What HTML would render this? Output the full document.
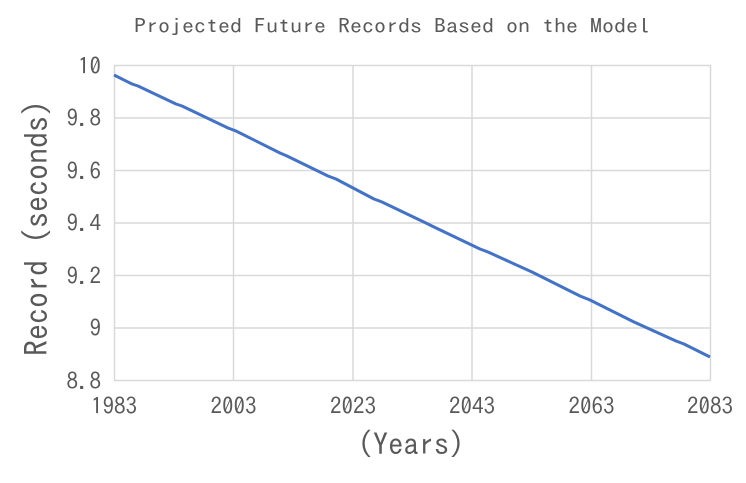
<!DOCTYPE html>
<html><head><meta charset="utf-8"><style>
body{margin:0;background:#fff;width:746px;height:478px;overflow:hidden}
svg text{font-family:"IPAGothic","Noto Sans CJK JP",sans-serif;fill:#595959}
</style></head><body>
<svg width="746" height="478" xmlns="http://www.w3.org/2000/svg">
<rect width="746" height="478" fill="#fff"/>
<text x="392" y="33" font-size="20" text-anchor="middle" textLength="516" lengthAdjust="spacingAndGlyphs">Projected Future Records Based on the Model</text>
<g stroke="#d9d9d9" stroke-width="1.5" fill="none">
<line x1="114" y1="65.5" x2="711" y2="65.5"/>
<line x1="114" y1="118" x2="711" y2="118"/>
<line x1="114" y1="170.5" x2="711" y2="170.5"/>
<line x1="114" y1="223" x2="711" y2="223"/>
<line x1="114" y1="275.5" x2="711" y2="275.5"/>
<line x1="114" y1="328" x2="711" y2="328"/>
<line x1="233.5" y1="65" x2="233.5" y2="380"/>
<line x1="353" y1="65" x2="353" y2="380"/>
<line x1="472" y1="65" x2="472" y2="380"/>
<line x1="591.5" y1="65" x2="591.5" y2="380"/>
<line x1="710.5" y1="65" x2="710.5" y2="380"/>
<line x1="114.5" y1="65" x2="114.5" y2="380"/>
<line x1="114" y1="380.5" x2="711" y2="380.5"/>
</g>
<polyline fill="none" stroke="#4472c4" stroke-width="3" stroke-linejoin="round" points="114,75 132,84 138,86 176,104 182,106 228,128 236,131 280,153 287,156 328,176 336,179 374,199 382,202 428,224 434,227 480,249 488,252 532,272 538,275 580,296 590,300 628,319 634,322 676,341 684,344 710,357"/>
<g font-size="23" text-anchor="end">
<text x="101" y="74">10</text>
<text x="101" y="126">9.8</text>
<text x="101" y="179">9.6</text>
<text x="101" y="231">9.4</text>
<text x="101" y="284">9.2</text>
<text x="101" y="336">9</text>
<text x="101" y="389">8.8</text>
</g>
<g font-size="23" text-anchor="middle">
<text x="114" y="414">1983</text>
<text x="233.5" y="414">2003</text>
<text x="353" y="414">2023</text>
<text x="472" y="414">2043</text>
<text x="591.5" y="414">2063</text>
<text x="710" y="414">2083</text>
</g>
<text x="411" y="455" font-size="30.5" text-anchor="middle">(Years)</text>
<text transform="translate(48,228) rotate(-90)" font-size="32" text-anchor="middle">Record (seconds)</text>
</svg>
</body></html>
